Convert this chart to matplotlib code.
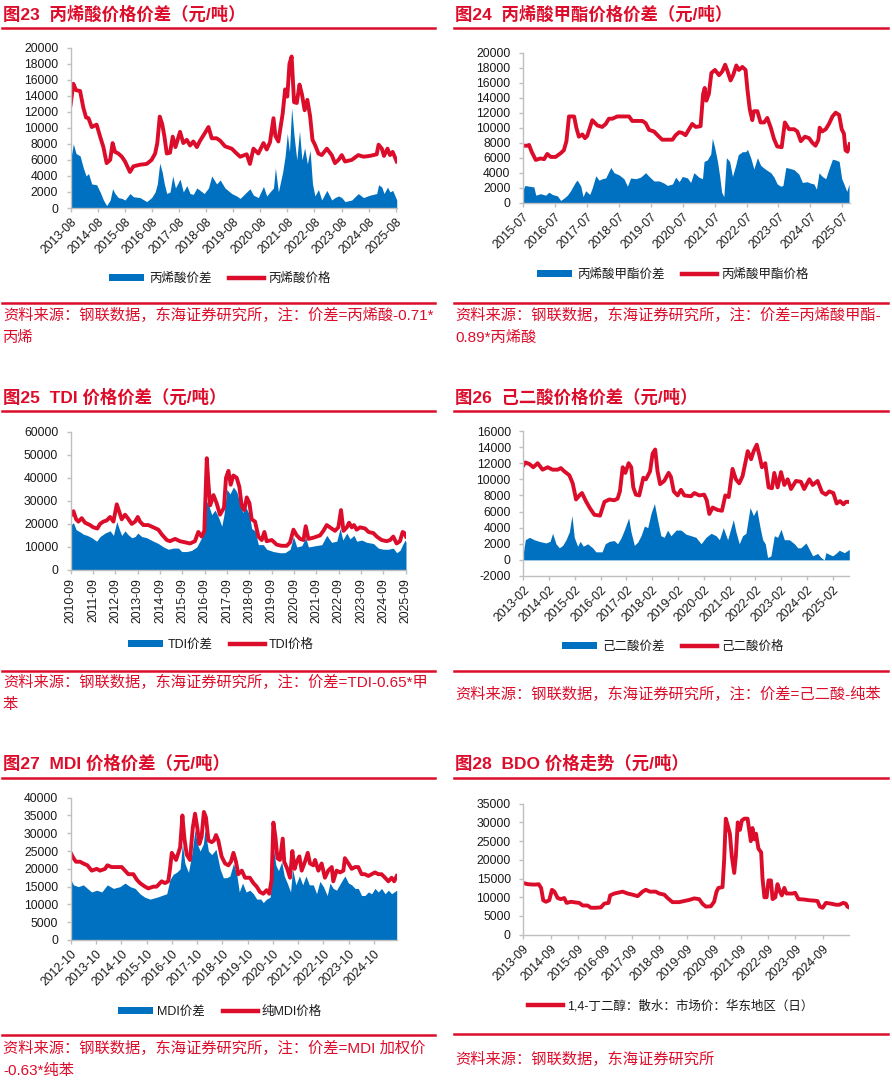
import numpy as np
import matplotlib
matplotlib.use('Agg')
import matplotlib.pyplot as plt
from matplotlib.patches import Patch
from matplotlib.lines import Line2D

plt.rcParams['font.family'] = ['Liberation Sans', 'Noto Sans CJK SC']
plt.rcParams['axes.unicode_minus'] = False

RED = '#DC0D2B'
BLUE = '#0070C0'
W, H = 892, 1080

# ---------------- data (dates in decimal years, values in 元/吨) ----------------
# 图23 丙烯酸
acr_dates = [2013.58, 2013.68, 2013.78, 2013.93, 2014.05, 2014.15, 2014.24, 2014.36, 2014.54, 2014.67,
             2014.79, 2014.91, 2015.04, 2015.13, 2015.22, 2015.34, 2015.47, 2015.59, 2015.77, 2015.90,
             2016.14, 2016.39, 2016.57, 2016.70, 2016.78, 2016.87, 2016.96, 2017.04, 2017.13, 2017.25,
             2017.35, 2017.45, 2017.62, 2017.74, 2017.87, 2017.99, 2018.11, 2018.24, 2018.36, 2018.51,
             2018.67, 2018.79, 2018.97, 2019.10, 2019.28, 2019.53, 2019.71, 2019.84, 2020.08, 2020.20,
             2020.33, 2020.51, 2020.70, 2020.82, 2020.94, 2021.07, 2021.14, 2021.25, 2021.41, 2021.50,
             2021.58, 2021.66, 2021.74, 2021.83, 2021.93, 2022.03, 2022.12, 2022.22, 2022.32, 2022.42,
             2022.51, 2022.60, 2022.73, 2022.85, 2023.04, 2023.22, 2023.34, 2023.47, 2023.59, 2023.71,
             2023.96, 2024.20, 2024.39, 2024.63, 2024.88, 2024.95, 2025.07, 2025.15, 2025.28, 2025.37,
             2025.47, 2025.62]
acr_price = [12900, 15500, 14700, 14600, 12500, 11300, 11200, 10100, 10400, 8900,
             7600, 5600, 6000, 8100, 7000, 6800, 6400, 5800, 4500, 5200,
             5400, 5500, 6000, 6800, 8100, 11400, 10500, 9000, 6800, 6900,
             8900, 7600, 9500, 8100, 8500, 7800, 8300, 7600, 8400, 9200,
             10100, 8700, 8700, 8400, 7700, 7400, 6800, 6400, 6700, 5500,
             7400, 6800, 8100, 7300, 8200, 11200, 9000, 8300, 11800, 14800,
             13900, 18000, 18900, 13200, 13100, 15400, 14200, 12200, 13500, 11500,
             8500, 7900, 6800, 6600, 7400, 6600, 5600, 6000, 6600, 5800,
             6000, 6600, 6400, 6500, 6700, 7900, 7400, 6500, 7400, 6600,
             7000, 5800]
acr_spread = [6000, 8000, 6800, 6500, 5000, 4000, 4300, 3000, 2900, 2000,
              1000, 300, 1000, 2400, 1800, 1300, 1200, 1000, 1800, 1400,
              1300, 800, 1300, 2000, 3000, 5600, 4500, 3000, 1800, 2000,
              4000, 2500, 3600, 2000, 2800, 1800, 1700, 2500, 2200, 1800,
              2500, 4000, 3000, 3500, 2500, 1800, 1500, 1200, 2000, 2400,
              1600, 1300, 2700, 1500, 2000, 2500, 5000, 2000, 4500, 6500,
              9300, 7000, 12500, 9000, 6000, 9600, 6000, 7500, 5500, 7200,
              3000, 1500, 2300, 1000, 2200, 1000, 1300, 1500, 1300, 800,
              1000, 1800, 1300, 1600, 1800, 2900, 2600, 1800, 2600, 2000,
              2200, 1000]

# 图24 丙烯酸甲酯
ma_price_dates = [2015.50, 2015.64, 2015.69, 2015.77, 2015.90, 2016.05, 2016.16, 2016.26, 2016.37, 2016.52,
                  2016.68, 2016.78, 2016.86, 2016.94, 2017.10, 2017.17, 2017.25, 2017.36, 2017.44, 2017.51,
                  2017.67, 2017.83, 2017.98, 2018.09, 2018.19, 2018.30, 2018.45, 2018.61, 2018.82, 2018.92,
                  2019.24, 2019.34, 2019.45, 2019.60, 2019.76, 2019.86, 2020.18, 2020.28, 2020.39, 2020.49,
                  2020.59, 2020.70, 2020.80, 2020.91, 2021.06, 2021.14, 2021.19, 2021.24, 2021.32, 2021.40,
                  2021.51, 2021.64, 2021.74, 2021.83, 2021.90, 2022.00, 2022.08, 2022.18, 2022.26, 2022.37,
                  2022.47, 2022.53, 2022.60, 2022.68, 2022.73, 2022.84, 2022.94, 2023.05, 2023.15, 2023.26,
                  2023.36, 2023.46, 2023.60, 2023.70, 2023.83, 2023.99, 2024.09, 2024.20, 2024.33, 2024.46,
                  2024.56, 2024.66, 2024.75, 2024.79, 2024.87, 2024.98, 2025.08, 2025.19, 2025.29, 2025.40,
                  2025.48, 2025.55, 2025.60, 2025.66, 2025.73]
ma_price = [7600, 7600, 7700, 6800, 5700, 5900, 5800, 6500, 6100, 6100,
            6600, 7000, 8200, 11500, 11500, 10000, 8800, 9100, 8600, 8900,
            11000, 10300, 10100, 10500, 11200, 11200, 11500, 11500, 11500, 10900,
            10900, 10600, 9700, 9500, 8800, 8400, 8400, 9000, 9400, 9300,
            9000, 9800, 10500, 10100, 10200, 14500, 15300, 13600, 14500, 17300,
            17700, 17000, 17500, 18400, 17600, 16300, 17000, 18300, 17700, 18100,
            17700, 15000, 12500, 11000, 12200, 12200, 10700, 10700, 11300, 10000,
            8500, 7500, 7400, 10700, 9800, 9800, 9500, 8200, 8800, 8600,
            8000, 7600, 8400, 10000, 9500, 9800, 10500, 11500, 12000, 11700,
            9800, 9200, 7000, 6800, 7800]
ma_spread_dates = [2015.50, 2015.56, 2015.69, 2015.84, 2015.90, 2016.05, 2016.21, 2016.31, 2016.42, 2016.58,
                   2016.68, 2016.78, 2016.89, 2016.99, 2017.15, 2017.20, 2017.31, 2017.38, 2017.46, 2017.59,
                   2017.67, 2017.78, 2017.88, 2017.98, 2018.09, 2018.25, 2018.35, 2018.51, 2018.66, 2018.77,
                   2018.87, 2019.03, 2019.18, 2019.34, 2019.45, 2019.60, 2019.76, 2019.92, 2020.02, 2020.18,
                   2020.28, 2020.39, 2020.49, 2020.65, 2020.75, 2020.85, 2021.01, 2021.12, 2021.17, 2021.27,
                   2021.38, 2021.43, 2021.51, 2021.59, 2021.66, 2021.72, 2021.79, 2021.87, 2021.97, 2022.06,
                   2022.16, 2022.24, 2022.37, 2022.47, 2022.53, 2022.63, 2022.73, 2022.84, 2022.94, 2023.05,
                   2023.15, 2023.26, 2023.36, 2023.46, 2023.57, 2023.64, 2023.73, 2023.83, 2023.99, 2024.14,
                   2024.25, 2024.40, 2024.51, 2024.61, 2024.69, 2024.77, 2024.87, 2024.98, 2025.08, 2025.19,
                   2025.29, 2025.40, 2025.48, 2025.55, 2025.64, 2025.71]
ma_spread = [1700, 2300, 2200, 2100, 1000, 1200, 1000, 1400, 1100, 900,
             300, 600, 1000, 1600, 2800, 3000, 2200, 800, 1600, 1100,
             2000, 3600, 3000, 3200, 3300, 4700, 4000, 3700, 3200, 2200,
             3300, 3200, 3400, 4000, 3500, 2900, 2900, 2600, 2300, 2500,
             3400, 2800, 3500, 3300, 2700, 4000, 3400, 3200, 5500, 5700,
             6500, 8600, 7200, 5500, 3500, 1400, 800, 6000, 5500, 3500,
             5000, 6400, 6800, 6800, 7100, 6000, 4500, 6000, 5000, 4600,
             4300, 4000, 3400, 2500, 2200, 2300, 4700, 4600, 4400, 3800,
             2700, 2800, 2600, 2500, 1800, 4000, 3500, 3200, 4500, 5800,
             5700, 5500, 3200, 2500, 1500, 2500]

# 图25 TDI
tdi_price_dates = [2010.67, 2010.79, 2010.91, 2011.01, 2011.16, 2011.31, 2011.53, 2011.68, 2011.86, 2011.98,
                   2012.13, 2012.28, 2012.43, 2012.58, 2012.73, 2012.85, 2012.95, 2013.10, 2013.22, 2013.40,
                   2013.55, 2013.67, 2013.77, 2013.92, 2014.14, 2014.37, 2014.59, 2014.74, 2014.97, 2015.11,
                   2015.34, 2015.56, 2015.79, 2016.01, 2016.23, 2016.38, 2016.53, 2016.65, 2016.76, 2016.83,
                   2016.91, 2017.06, 2017.20, 2017.35, 2017.53, 2017.62, 2017.73, 2017.83, 2017.95, 2018.10,
                   2018.22, 2018.32, 2018.44, 2018.55, 2018.67, 2018.77, 2018.92, 2019.07, 2019.22, 2019.34,
                   2019.44, 2019.67, 2019.89, 2020.11, 2020.34, 2020.49, 2020.64, 2020.79, 2020.94, 2021.09,
                   2021.19, 2021.31, 2021.53, 2021.83, 2021.98, 2022.13, 2022.35, 2022.50, 2022.65, 2022.77,
                   2022.88, 2023.03, 2023.13, 2023.25, 2023.35, 2023.47, 2023.62, 2023.85, 2024.00, 2024.22,
                   2024.37, 2024.59, 2024.82, 2024.97, 2025.11, 2025.26, 2025.41, 2025.53, 2025.61, 2025.68]
tdi_price = [23500, 25500, 22000, 21000, 22500, 20500, 19500, 18500, 18000, 20000,
             21000, 21500, 23000, 21000, 28500, 25000, 22000, 24000, 22500, 20000,
             21000, 23000, 21000, 19500, 19500, 18500, 17500, 15500, 13000, 12500,
             13500, 12500, 12000, 11500, 12500, 16500, 14500, 17000, 48500, 38000,
             28000, 32500, 29000, 24000, 27000, 40000, 43000, 37000, 41000, 40000,
             36000, 28000, 26000, 31500, 29000, 22000, 21000, 14500, 13000, 16500,
             12500, 13000, 11000, 10500, 10500, 12000, 17500, 15000, 13500, 13000,
             19000, 13500, 14000, 15000, 17000, 19500, 18000, 17000, 18500, 26000,
             17000, 18500, 20500, 18500, 19500, 17500, 18500, 18000, 16500, 16000,
             14500, 13000, 12500, 13000, 14500, 11500, 12500, 16500, 16000, 14500]
tdi_spread_dates = [2010.67, 2010.79, 2010.91, 2011.09, 2011.24, 2011.41, 2011.61, 2011.83, 2011.98, 2012.20,
                    2012.43, 2012.58, 2012.73, 2012.85, 2012.95, 2013.10, 2013.22, 2013.40, 2013.55, 2013.67,
                    2013.85, 2014.07, 2014.37, 2014.59, 2014.82, 2015.04, 2015.26, 2015.49, 2015.64, 2015.86,
                    2016.08, 2016.31, 2016.53, 2016.65, 2016.76, 2016.88, 2016.98, 2017.13, 2017.28, 2017.43,
                    2017.53, 2017.66, 2017.80, 2017.95, 2018.10, 2018.25, 2018.37, 2018.52, 2018.67, 2018.77,
                    2018.92, 2019.07, 2019.29, 2019.44, 2019.74, 2020.04, 2020.26, 2020.49, 2020.64, 2020.79,
                    2021.01, 2021.19, 2021.31, 2021.61, 2021.91, 2022.13, 2022.35, 2022.58, 2022.73, 2022.85,
                    2023.03, 2023.17, 2023.35, 2023.47, 2023.70, 2023.92, 2024.22, 2024.44, 2024.67, 2024.89,
                    2025.11, 2025.26, 2025.41, 2025.53, 2025.64, 2025.68]
tdi_spread = [19500, 20500, 17500, 16500, 15500, 15000, 14000, 12500, 14500, 16000,
              17000, 15000, 21000, 17500, 15000, 17000, 15500, 14000, 14500, 16000,
              14500, 14000, 12500, 11500, 10000, 9000, 9500, 9500, 8000, 8000,
              8500, 10000, 14000, 16000, 30000, 27000, 24000, 26000, 23000, 19000,
              24000, 35000, 33000, 36000, 34000, 29000, 25000, 27000, 24000, 18000,
              17000, 11000, 11000, 9000, 8000, 7500, 7500, 9000, 14500, 10000,
              10500, 14000, 10000, 10500, 11000, 15000, 12000, 12500, 18000, 13000,
              16000, 13500, 15000, 12500, 13000, 12000, 11500, 9500, 9000, 9000,
              9500, 7500, 8500, 11000, 13000, 12000]

# 图26 己二酸
ada_price_dates = [2013.08, 2013.16, 2013.32, 2013.47, 2013.64, 2013.83, 2014.03, 2014.22, 2014.42, 2014.54,
                   2014.67, 2014.87, 2015.00, 2015.13, 2015.26, 2015.36, 2015.51, 2015.67, 2015.84, 2016.06,
                   2016.23, 2016.42, 2016.61, 2016.74, 2016.83, 2016.94, 2017.04, 2017.17, 2017.27, 2017.35,
                   2017.45, 2017.58, 2017.74, 2017.84, 2018.00, 2018.10, 2018.20, 2018.29, 2018.39, 2018.55,
                   2018.72, 2018.81, 2018.92, 2019.07, 2019.20, 2019.33, 2019.59, 2019.72, 2019.91, 2020.10,
                   2020.20, 2020.30, 2020.43, 2020.62, 2020.79, 2020.92, 2021.05, 2021.20, 2021.33, 2021.46,
                   2021.59, 2021.79, 2021.92, 2022.02, 2022.14, 2022.24, 2022.34, 2022.47, 2022.60, 2022.73,
                   2022.82, 2022.95, 2023.08, 2023.21, 2023.34, 2023.47, 2023.66, 2023.85, 2023.98, 2024.18,
                   2024.31, 2024.50, 2024.67, 2024.82, 2024.95, 2025.11, 2025.24, 2025.37, 2025.50, 2025.60,
                   2025.73]
ada_price = [11700, 12100, 11900, 11500, 12000, 11200, 11500, 11200, 11200, 11400,
             11000, 10500, 9500, 7500, 8000, 8300, 7300, 6400, 5600, 5500,
             7200, 7500, 7400, 7600, 8500, 11500, 10800, 12000, 11500, 9000,
             8100, 8000, 10200, 10000, 11000, 13200, 13700, 11000, 9400, 9800,
             10800, 10300, 8500, 8000, 8700, 8000, 7900, 8300, 8000, 8100,
             7400, 5700, 6500, 6200, 6100, 8000, 7800, 11300, 10000, 9500,
             10400, 13500, 12500, 13500, 14300, 13000, 11500, 12000, 9000, 8900,
             10800, 9000, 10900, 9300, 10000, 8800, 9800, 9700, 8800, 10000,
             9300, 9800, 8400, 8100, 8500, 8300, 7000, 7300, 6900, 7200,
             7200]
ada_spread_dates = [2013.08, 2013.16, 2013.32, 2013.51, 2013.70, 2013.96, 2014.12, 2014.22, 2014.35, 2014.48,
                    2014.61, 2014.74, 2014.87, 2014.97, 2015.06, 2015.19, 2015.29, 2015.41, 2015.58, 2015.77,
                    2015.90, 2016.14, 2016.26, 2016.42, 2016.61, 2016.74, 2016.87, 2017.00, 2017.17, 2017.26,
                    2017.39, 2017.52, 2017.65, 2017.78, 2017.91, 2018.04, 2018.17, 2018.29, 2018.42, 2018.55,
                    2018.68, 2018.81, 2019.01, 2019.20, 2019.39, 2019.59, 2019.78, 2019.98, 2020.17, 2020.37,
                    2020.56, 2020.69, 2020.84, 2021.01, 2021.23, 2021.33, 2021.46, 2021.59, 2021.72, 2021.88,
                    2022.01, 2022.14, 2022.27, 2022.37, 2022.47, 2022.56, 2022.69, 2022.82, 2022.95, 2023.08,
                    2023.21, 2023.40, 2023.60, 2023.73, 2023.85, 2024.05, 2024.18, 2024.31, 2024.50, 2024.63,
                    2024.76, 2024.82, 2024.95, 2025.08, 2025.21, 2025.34, 2025.54, 2025.73]
ada_spread = [800, 2500, 2800, 2500, 2300, 2100, 2300, 3300, 2000, 1500,
              1800, 2500, 3500, 5500, 2800, 1700, 2300, 1700, 2000, 1500,
              1000, 1000, 2000, 2300, 2400, 2000, 2700, 3700, 5200, 3500,
              1800, 2200, 3000, 4200, 4000, 5800, 7000, 5000, 3000, 2800,
              3700, 3000, 3700, 3700, 3200, 3000, 2800, 2000, 2800, 3300,
              3000, 2500, 4000, 2500, 5000, 3500, 2000, 3000, 3300, 6500,
              5500, 6300, 4000, 2500, 2000, 300, 500, 3000, 2800, 3800,
              2500, 2500, 2000, 1500, 1500, 2100, 1300, 500, 800, 300,
              0, 900, 700, 500, 800, 1200, 900, 1300]

# 图27 MDI
mdi_price_dates = [2012.75, 2012.86, 2012.96, 2013.12, 2013.25, 2013.41, 2013.58, 2013.78, 2013.91, 2014.11,
                   2014.20, 2014.37, 2014.57, 2014.77, 2014.90, 2015.03, 2015.23, 2015.36, 2015.49, 2015.69,
                   2015.82, 2016.02, 2016.15, 2016.35, 2016.48, 2016.61, 2016.68, 2016.75, 2016.84, 2016.92,
                   2017.08, 2017.17, 2017.25, 2017.34, 2017.47, 2017.58, 2017.67, 2017.76, 2017.84, 2017.93,
                   2018.02, 2018.10, 2018.20, 2018.33, 2018.42, 2018.50, 2018.59, 2018.72, 2018.86, 2018.99,
                   2019.09, 2019.19, 2019.29, 2019.38, 2019.52, 2019.65, 2019.84, 2019.98, 2020.11, 2020.24,
                   2020.37, 2020.50, 2020.61, 2020.70, 2020.77, 2020.85, 2020.93, 2021.03, 2021.14, 2021.20,
                   2021.32, 2021.43, 2021.52, 2021.61, 2021.69, 2021.80, 2021.89, 2022.02, 2022.13, 2022.22,
                   2022.35, 2022.42, 2022.55, 2022.68, 2022.81, 2022.94, 2023.08, 2023.14, 2023.27, 2023.41,
                   2023.54, 2023.60, 2023.74, 2023.87, 2024.00, 2024.13, 2024.26, 2024.39, 2024.53, 2024.66,
                   2024.79, 2024.92, 2025.05, 2025.19, 2025.32, 2025.45, 2025.55, 2025.65]
mdi_price = [24500, 23000, 22000, 22000, 21500, 21000, 19500, 20000, 19500, 20000,
             21000, 20500, 20500, 20500, 19500, 18500, 18500, 17000, 16000, 15000,
             14500, 15000, 15000, 16500, 16000, 16500, 20000, 24500, 23500, 22500,
             26000, 35000, 28500, 24000, 22500, 31500, 35500, 31500, 27000, 29000,
             36000, 34500, 28000, 27500, 28000, 29500, 28000, 23500, 21500, 21000,
             22000, 24500, 22000, 18500, 19500, 17500, 17500, 16000, 15000, 13500,
             13000, 14000, 13000, 17000, 33000, 29000, 23000, 22500, 28500, 22000,
             20000, 17500, 25000, 20000, 22000, 23500, 19500, 22000, 24500, 21500,
             21000, 22500, 19500, 21500, 17500, 19500, 20500, 16500, 19500, 19000,
             19500, 23000, 21500, 20000, 20500, 20500, 18500, 18500, 18000, 18500,
             19000, 18500, 18500, 17500, 16500, 17500, 16500, 18000]
mdi_spread_dates = [2012.75, 2012.86, 2013.05, 2013.25, 2013.41, 2013.58, 2013.78, 2013.98, 2014.20, 2014.44,
                    2014.70, 2014.90, 2015.10, 2015.30, 2015.49, 2015.69, 2015.89, 2016.15, 2016.35, 2016.55,
                    2016.68, 2016.81, 2016.94, 2017.08, 2017.17, 2017.27, 2017.41, 2017.54, 2017.67, 2017.76,
                    2017.87, 2018.00, 2018.06, 2018.20, 2018.33, 2018.50, 2018.66, 2018.79, 2018.92, 2019.05,
                    2019.19, 2019.32, 2019.42, 2019.55, 2019.69, 2019.84, 2019.98, 2020.11, 2020.27, 2020.37,
                    2020.50, 2020.64, 2020.70, 2020.77, 2020.87, 2020.97, 2021.10, 2021.20, 2021.32, 2021.45,
                    2021.53, 2021.66, 2021.80, 2021.93, 2022.06, 2022.19, 2022.35, 2022.48, 2022.61, 2022.75,
                    2022.90, 2023.01, 2023.14, 2023.27, 2023.47, 2023.60, 2023.74, 2023.87, 2024.00, 2024.13,
                    2024.26, 2024.39, 2024.53, 2024.66, 2024.79, 2024.92, 2025.05, 2025.19, 2025.32, 2025.45,
                    2025.55, 2025.65]
mdi_spread = [17000, 15500, 15000, 15500, 14500, 13500, 14000, 13500, 15500, 14500,
              15000, 16000, 15000, 14500, 13000, 12000, 11500, 12000, 12500, 13000,
              17000, 18500, 19000, 20000, 27000, 21500, 19000, 24000, 31000, 27000,
              25000, 27000, 31000, 25000, 24000, 25500, 20000, 17500, 17500, 18000,
              21500, 18500, 13500, 16000, 13500, 14000, 13000, 11500, 11500, 10500,
              11500, 12000, 16000, 26000, 21000, 19500, 22000, 18000, 16000, 13500,
              20000, 15500, 18000, 15500, 18000, 15500, 15500, 13000, 16500, 15000,
              12500, 16000, 14500, 14000, 16500, 18000, 16000, 15500, 14500, 14500,
              12500, 12500, 13500, 13000, 14500, 13500, 14500, 13000, 14000, 13000,
              13500, 14000]

# 图28 BDO
bdo_dates = [2013.67, 2013.83, 2014.01, 2014.13, 2014.23, 2014.32, 2014.40, 2014.50, 2014.62, 2014.72,
             2014.81, 2014.93, 2015.05, 2015.17, 2015.26, 2015.42, 2015.60, 2015.72, 2015.85, 2016.03,
             2016.15, 2016.34, 2016.52, 2016.64, 2016.80, 2016.86, 2017.01, 2017.19, 2017.32, 2017.50,
             2017.68, 2017.87, 2018.05, 2018.17, 2018.32, 2018.54, 2018.66, 2018.85, 2018.97, 2019.15,
             2019.40, 2019.58, 2019.77, 2019.95, 2020.13, 2020.26, 2020.38, 2020.56, 2020.68, 2020.77,
             2020.84, 2020.99, 2021.05, 2021.11, 2021.17, 2021.26, 2021.33, 2021.42, 2021.48, 2021.55,
             2021.63, 2021.70, 2021.79, 2021.91, 2021.99, 2022.03, 2022.09, 2022.16, 2022.22, 2022.31,
             2022.41, 2022.46, 2022.53, 2022.61, 2022.68, 2022.77, 2022.83, 2022.93, 2023.01, 2023.10,
             2023.17, 2023.26, 2023.34, 2023.44, 2023.56, 2023.66, 2023.78, 2023.99, 2024.18, 2024.36,
             2024.48, 2024.57, 2024.67, 2024.79, 2024.97, 2025.16, 2025.28, 2025.43, 2025.52, 2025.58,
             2025.67]
bdo_price = [13800, 13500, 13400, 13400, 13500, 12500, 9200, 8800, 9200, 12000,
             11500, 9800, 9500, 9800, 8500, 8800, 8600, 8500, 7800, 7800,
             7200, 7200, 7300, 8300, 8500, 10500, 11000, 11300, 11500, 11000,
             10700, 10300, 11500, 12000, 11500, 11500, 11000, 10700, 9800, 8700,
             8700, 9000, 9300, 9700, 9500, 8200, 7500, 7600, 8800, 11500,
             12500, 12700, 20000, 31000, 29500, 27000, 21000, 16500, 21000, 30000,
             28000, 30500, 31000, 31000, 27000, 25000, 28500, 25500, 27000, 23000,
             22000, 15000, 10000, 10000, 14500, 14500, 9500, 10000, 13500, 11500,
             10500, 12500, 11000, 11000, 11000, 11200, 9500, 9400, 9200, 9100,
             9000, 7500, 7200, 8500, 8300, 8000, 8000, 8500, 8300, 7500,
             7200]

fig = plt.figure(figsize=(W / 100, H / 100), dpi=100)


def px_axes(left, top, right, bottom):
    return fig.add_axes([left / W, 1 - bottom / H, (right - left) / W, (bottom - top) / H])


def fy(y):
    return 1 - y / H


def style(ax, xlim, ylim, ystep, years, month, rot):
    ax.set_xlim(*xlim)
    ax.set_ylim(*ylim)
    for s in ['top', 'right']:
        ax.spines[s].set_visible(False)
    for s in ['left', 'bottom']:
        ax.spines[s].set_color('#BFBFBF')
        ax.spines[s].set_linewidth(1.0)
    yt = np.arange(ylim[0], ylim[1] + 1, ystep)
    ax.set_yticks(yt)
    ax.set_yticklabels([str(int(v)) for v in yt])
    ax.set_xticks([y + (month - 1) / 12 for y in years])
    if rot == 90:
        ax.set_xticklabels(['%d-%02d' % (y, month) for y in years], rotation=90, ha='center', va='top')
    else:
        ax.set_xticklabels(['%d-%02d' % (y, month) for y in years], rotation=45, ha='right',
                           va='top', rotation_mode='anchor')
    ax.tick_params(axis='both', labelsize=8.8, colors='#BFBFBF', labelcolor='#1a1a1a', length=3, width=1)
    ax.tick_params(axis='y', pad=6)
    ax.tick_params(axis='x', pad=3)


def header(x, y_title, y_line, text, x_end):
    fig.text(x / W, fy(y_title), text, color=RED, fontsize=12.5, fontweight='bold', va='center', ha='left')
    fig.add_artist(Line2D([(x - 1) / W, x_end / W], [fy(y_line), fy(y_line)], color=RED, lw=1.8))


def footer(x, y_line, y_text, lines, x_end):
    fig.add_artist(Line2D([(x - 1) / W, x_end / W], [fy(y_line), fy(y_line)], color=RED, lw=1.8))
    for i, t in enumerate(lines):
        fig.text(x / W, fy(y_text + i * 23), t, color=RED, fontsize=11, va='center', ha='left')


def legend(cx, cy, labels, with_area=True):
    handles = []
    if with_area:
        handles.append(Patch(facecolor=BLUE, edgecolor='none'))
    handles.append(Line2D([0], [0], color=RED, lw=3.2))
    fig.legend(handles, labels, loc='center', bbox_to_anchor=(cx / W, fy(cy)), ncol=len(labels),
               frameon=False, fontsize=9, handlelength=2.8, handleheight=0.55, handletextpad=0.35,
               columnspacing=1.4, labelcolor='#1a1a1a')


def draw(ax, dp, price, ds, spread):
    if ds is not None:
        ax.fill_between(ds, 0, spread, color=BLUE, lw=0)
    ax.plot(dp, price, color=RED, lw=2.8, solid_joinstyle='round')


# 图23
ax1 = px_axes(70.7, 47.7, 397, 208)
draw(ax1, acr_dates, acr_price, acr_dates, acr_spread)
style(ax1, (2013.583, 2025.63), (0, 20000), 2000, range(2013, 2026), 8, 45)
header(3, 14, 27.5, '图23  丙烯酸价格价差（元/吨）', 435)
legend(220, 279, ['丙烯酸价差', '丙烯酸价格'])
footer(3, 303, 315, ['资料来源：钢联数据，东海证券研究所，注：价差=丙烯酸-0.71*', '丙烯'], 435)

# 图24
ax2 = px_axes(523, 52.7, 850, 202.7)
draw(ax2, ma_price_dates, ma_price, ma_spread_dates, ma_spread)
style(ax2, (2015.5, 2025.74), (0, 20000), 2000, range(2015, 2026), 7, 45)
header(455, 14, 28, '图24  丙烯酸甲酯价格价差（元/吨）', 888)
legend(673, 275, ['丙烯酸甲酯价差', '丙烯酸甲酯价格'])
footer(455, 303, 315, ['资料来源：钢联数据，东海证券研究所，注：价差=丙烯酸甲酯-', '0.89*丙烯酸'], 888)

# 图25
ax3 = px_axes(70.7, 431.7, 406, 570)
draw(ax3, tdi_price_dates, tdi_price, tdi_spread_dates, tdi_spread)
style(ax3, (2010.667, 2025.68), (0, 60000), 10000, range(2010, 2026), 9, 90)
header(3, 397, 411, '图25  TDI 价格价差（元/吨）', 435)
legend(221, 645, ['TDI价差', 'TDI价格'])
footer(3, 671, 682, ['资料来源：钢联数据，东海证券研究所，注：价差=TDI-0.65*甲', '苯'], 435)

# 图26
ax4 = px_axes(523.3, 431, 849.3, 576)
draw(ax4, ada_price_dates, ada_price, ada_spread_dates, ada_spread)
style(ax4, (2013.083, 2025.73), (-2000, 16000), 2000, range(2013, 2026), 2, 45)
header(455, 397, 411, '图26  己二酸价格价差（元/吨）', 888)
legend(673, 647, ['己二酸价差', '己二酸价格'])
footer(455, 671, 694, ['资料来源：钢联数据，东海证券研究所，注：价差=己二酸-纯苯'], 888)

# 图27
ax5 = px_axes(70.7, 797.7, 396.7, 940)
draw(ax5, mdi_price_dates, mdi_price, mdi_spread_dates, mdi_spread)
style(ax5, (2012.75, 2025.65), (0, 40000), 5000, range(2012, 2025), 10, 45)
header(3, 763, 778, '图27  MDI 价格价差（元/吨）', 435)
legend(220, 1012, ['MDI价差', '纯MDI价格'])
footer(3, 1035, 1048, ['资料来源：钢联数据，东海证券研究所，注：价差=MDI 加权价', '-0.63*纯苯'], 435)

# 图28
ax6 = px_axes(523.3, 803.7, 849.3, 934.7)
draw(ax6, bdo_dates, bdo_price, None, None)
style(ax6, (2013.667, 2025.65), (0, 35000), 5000, range(2013, 2025), 9, 45)
header(455, 763, 778, '图28  BDO 价格走势（元/吨）', 888)
legend(671, 1006, ['1,4-丁二醇：散水：市场价：华东地区（日）'], with_area=False)
footer(455, 1034, 1059, ['资料来源：钢联数据，东海证券研究所'], 888)

fig.savefig('out.png', dpi=100)
